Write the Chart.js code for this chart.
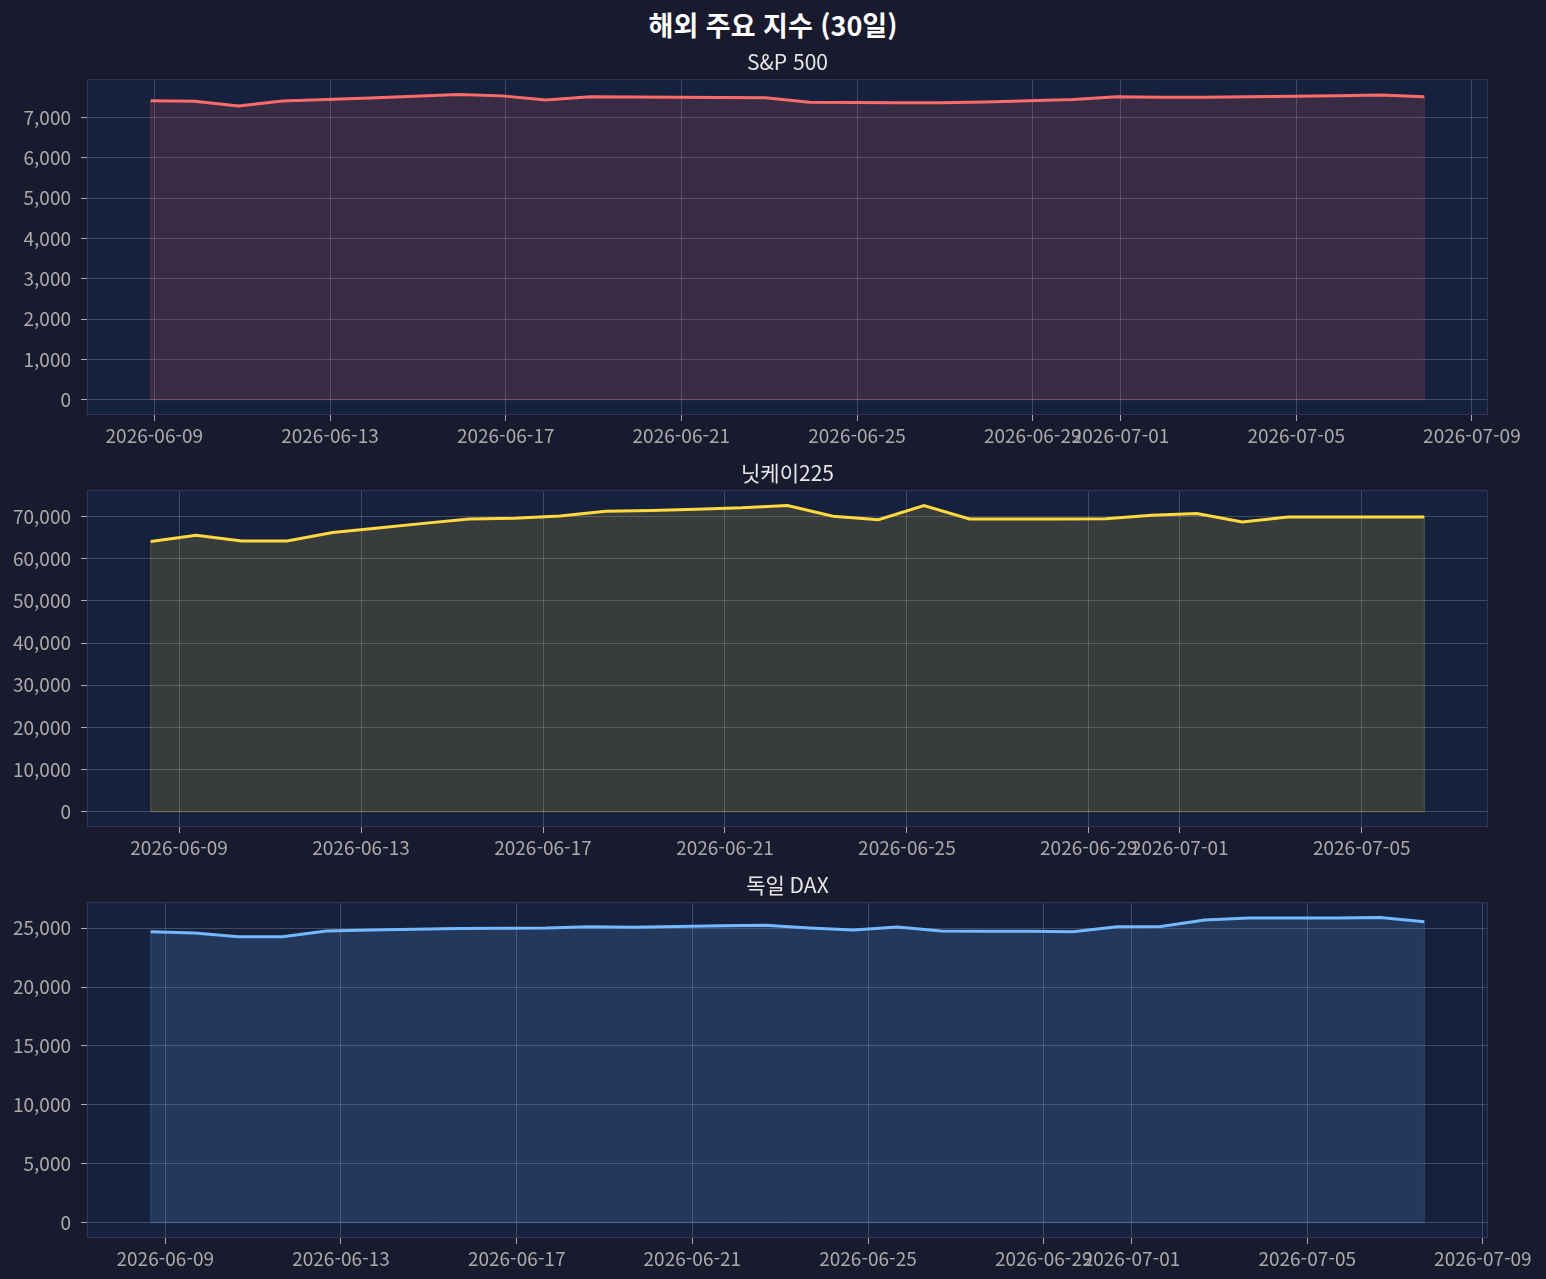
<!DOCTYPE html>
<html lang="ko">
<head>
<meta charset="utf-8">
<title>해외 주요 지수 (30일)</title>
<script src="https://cdn.jsdelivr.net/npm/chart.js@4.4.1/dist/chart.umd.min.js"></script>
<style>
  html, body { margin: 0; padding: 0; background: #1a1a2e; }
  body { width: 1546px; height: 1279px; position: relative; overflow: hidden; font-family: 'Noto Sans CJK KR', 'Noto Sans', sans-serif; }
  #title { position: absolute; left: 0; top: 8px; width: 1546px; text-align: center; color: #ffffff; font-weight: bold; font-size: 27px; line-height: 34px; }
  .panel { position: absolute; left: 0; width: 1546px; }
</style>
</head>
<body>
<div id="title">해외 주요 지수 (30일)</div>
<div class="panel" style="top:39px;height:411px"><canvas id="c0"></canvas></div>
<div class="panel" style="top:450px;height:412px"><canvas id="c1"></canvas></div>
<div class="panel" style="top:862px;height:417px"><canvas id="c2"></canvas></div>
<script>
// S&P 500 closes (timestamps as they sit on the time axis)
const spDates = [
    '2026-06-08T22:00', '2026-06-09T22:00', '2026-06-10T22:00', '2026-06-11T22:00', '2026-06-12T22:00',
    '2026-06-13T22:00', '2026-06-14T22:00', '2026-06-15T22:00', '2026-06-16T22:00', '2026-06-17T22:00',
    '2026-06-18T22:00', '2026-06-19T22:00', '2026-06-20T22:00', '2026-06-21T22:00', '2026-06-22T22:00',
    '2026-06-23T22:00', '2026-06-24T22:00', '2026-06-25T22:00', '2026-06-26T22:00', '2026-06-27T22:00',
    '2026-06-28T22:00', '2026-06-29T22:00', '2026-06-30T22:00', '2026-07-01T22:00', '2026-07-02T22:00',
    '2026-07-03T22:00', '2026-07-04T22:00', '2026-07-05T22:00', '2026-07-06T22:00', '2026-07-07T22:00'
];
const spValues = [
    7420, 7405, 7290, 7410, 7450, 7490, 7530, 7575, 7540, 7440,
    7520, 7510, 7505, 7500, 7495, 7380, 7378, 7372, 7372, 7388,
    7420, 7452, 7518, 7505, 7505, 7518, 7528, 7544, 7560, 7520
];

// 닛케이225
const nkDates = [
    '2026-06-08T09:00', '2026-06-09T09:00', '2026-06-10T09:00', '2026-06-11T09:00', '2026-06-12T09:00',
    '2026-06-13T09:00', '2026-06-14T09:00', '2026-06-15T09:00', '2026-06-16T09:00', '2026-06-17T09:00',
    '2026-06-18T09:00', '2026-06-19T09:00', '2026-06-20T09:00', '2026-06-21T09:00', '2026-06-22T09:00',
    '2026-06-23T09:00', '2026-06-24T09:00', '2026-06-25T09:00', '2026-06-26T09:00', '2026-06-27T09:00',
    '2026-06-28T09:00', '2026-06-29T09:00', '2026-06-30T09:00', '2026-07-01T09:00', '2026-07-02T09:00',
    '2026-07-03T09:00', '2026-07-04T09:00', '2026-07-05T09:00', '2026-07-06T09:00'
];
const nkValues = [
    64080, 65600, 64240, 64240, 66240, 67280, 68400, 69440, 69600, 70160,
    71280, 71440, 71760, 72080, 72640, 70080, 69280, 72640, 69440, 69440,
    69440, 69520, 70320, 70720, 68720, 69920, 69920, 69920, 69920
];

// 독일 DAX
const daxDates = [
    '2026-06-08T16:00', '2026-06-09T16:00', '2026-06-10T16:00', '2026-06-11T16:00', '2026-06-12T16:00',
    '2026-06-13T16:00', '2026-06-14T16:00', '2026-06-15T16:00', '2026-06-16T16:00', '2026-06-17T16:00',
    '2026-06-18T16:00', '2026-06-19T16:00', '2026-06-20T16:00', '2026-06-21T16:00', '2026-06-22T16:00',
    '2026-06-23T16:00', '2026-06-24T16:00', '2026-06-25T16:00', '2026-06-26T16:00', '2026-06-27T16:00',
    '2026-06-28T16:00', '2026-06-29T16:00', '2026-06-30T16:00', '2026-07-01T16:00', '2026-07-02T16:00',
    '2026-07-03T16:00', '2026-07-04T16:00', '2026-07-05T16:00', '2026-07-06T16:00', '2026-07-07T16:00'
];
const daxValues = [
    24690, 24580, 24270, 24270, 24750, 24830, 24890, 24970, 24975, 25000,
    25110, 25060, 25140, 25200, 25230, 25000, 24830, 25085, 24750, 24720,
    24720, 24690, 25110, 25140, 25680, 25850, 25850, 25850, 25900, 25540
];

const xTickDates = ['2026-06-09', '2026-06-13', '2026-06-17', '2026-06-21', '2026-06-25',
    '2026-06-29', '2026-07-01', '2026-07-05', '2026-07-09'];
const panelTitles = ['S&P 500', '닛케이225', '독일 DAX'];
const yTickSteps = [1000, 10000, 5000];
const lineColors = ['#ff6b6b', '#ffd93d', '#74b9ff'];

const FONT = "'Noto Sans CJK KR', 'Noto Sans', sans-serif";
const DAY = 86400000;
Chart.defaults.font.family = FONT;

function toDay(s) {
    const [d, t] = s.split('T');
    const [y, m, dd] = d.split('-').map(Number);
    const [hh, mm] = (t || '00:00').split(':').map(Number);
    return Date.UTC(y, m - 1, dd, hh, mm) / DAY;
}
function dayLabel(v) {
    return new Date(Math.round(v) * DAY).toISOString().slice(0, 10);
}
function withAlpha(hex, a) {
    const n = parseInt(hex.slice(1), 16);
    return `rgba(${n >> 16}, ${(n >> 8) & 255}, ${n & 255}, ${a})`;
}

// axes face + spines, and the faint outline matplotlib puts round fill_between
const panelFrame = {
    id: 'panelFrame',
    beforeDraw(chart) {
        const { ctx, chartArea: a } = chart;
        ctx.save();
        ctx.fillStyle = '#16213e';
        ctx.fillRect(a.left, a.top, a.width, a.height);
        ctx.restore();
    },
    beforeDatasetsDraw(chart) {
        const { ctx } = chart;
        const ds = chart.data.datasets[0];
        const pts = ds.data;
        const xs = chart.scales.x, ys = chart.scales.y;
        const xa = xs.getPixelForValue(pts[0].x), xb = xs.getPixelForValue(pts[pts.length - 1].x);
        const y0 = ys.getPixelForValue(0);
        ctx.save();
        ctx.strokeStyle = withAlpha(ds.borderColor, 0.25);
        ctx.lineWidth = 1;
        ctx.beginPath();
        ctx.moveTo(xa, ys.getPixelForValue(pts[0].y));
        ctx.lineTo(xa, y0);
        ctx.lineTo(xb, y0);
        ctx.lineTo(xb, ys.getPixelForValue(pts[pts.length - 1].y));
        ctx.stroke();
        ctx.restore();
    },
    afterDraw(chart) {
        const { ctx, chartArea: a } = chart;
        ctx.save();
        ctx.strokeStyle = '#33365a';
        ctx.lineWidth = 1;
        ctx.strokeRect(a.left + 0.5, a.top + 0.5, a.width - 1, a.height - 1);
        ctx.restore();
    }
};

function makePanel(id, title, dates, values, color, step, bottomPad) {
    const xs = dates.map(toDay);
    const x0 = Math.min(...xs), x1 = Math.max(...xs);
    const xm = (x1 - x0) * 0.05;
    const yMax = Math.max(...values);
    const ym = yMax * 0.05; // filled down to 0, so the data range is 0..max
    const pts = xs.map((x, i) => ({ x: x, y: values[i] }));

    new Chart(document.getElementById(id), {
        type: 'line',
        data: {
            datasets: [{
                data: pts,
                borderColor: color,
                borderWidth: 3,
                pointRadius: 0,
                tension: 0,
                fill: 'origin',
                backgroundColor: withAlpha(color, 0.15)
            }]
        },
        options: {
            responsive: true,
            maintainAspectRatio: false,
            animation: false,
            layout: { padding: { left: 0, right: 58, top: 0, bottom: bottomPad } },
            plugins: {
                legend: { display: false },
                tooltip: { enabled: false },
                title: {
                    display: true,
                    fullSize: false, // centre over the plot, not the canvas
                    text: title,
                    color: '#e6e6e6',
                    font: { size: 21, weight: 'normal' },
                    padding: { top: 10, bottom: 5 }
                }
            },
            scales: {
                x: {
                    type: 'linear',
                    min: x0 - xm,
                    max: x1 + xm,
                    afterBuildTicks: s => {
                        s.ticks = xTickDates.map(toDay)
                            .filter(v => v >= s.min && v <= s.max)
                            .map(v => ({ value: v }));
                    },
                    afterFit: s => { s.height = 35; },
                    ticks: {
                        callback: v => dayLabel(v),
                        color: '#aaaaaa',
                        font: { size: 19 },
                        maxRotation: 0,
                        autoSkip: false,
                        padding: 3
                    },
                    grid: { color: 'rgba(255,255,255,0.18)', tickColor: '#aaaaaa', tickLength: 6 },
                    border: { display: false }
                },
                y: {
                    min: -ym,
                    max: yMax + ym,
                    afterBuildTicks: s => {
                        const t = [];
                        for (let v = Math.ceil(s.min / step) * step; v <= s.max; v += step) t.push({ value: v || 0 });
                        s.ticks = t;
                    },
                    afterFit: s => { s.width = 87; },
                    ticks: {
                        callback: v => (v || 0).toLocaleString('en-US'),
                        color: '#aaaaaa',
                        font: { size: 19 },
                        padding: 10
                    },
                    grid: { color: 'rgba(255,255,255,0.18)', tickColor: '#aaaaaa', tickLength: 6 },
                    border: { display: false }
                }
            }
        },
        plugins: [panelFrame]
    });
}

makePanel('c0', panelTitles[0], spDates, spValues, lineColors[0], yTickSteps[0], 0);
makePanel('c1', panelTitles[1], nkDates, nkValues, lineColors[1], yTickSteps[1], 0);
makePanel('c2', panelTitles[2], daxDates, daxValues, lineColors[2], yTickSteps[2], 6);
</script>
</body>
</html>
